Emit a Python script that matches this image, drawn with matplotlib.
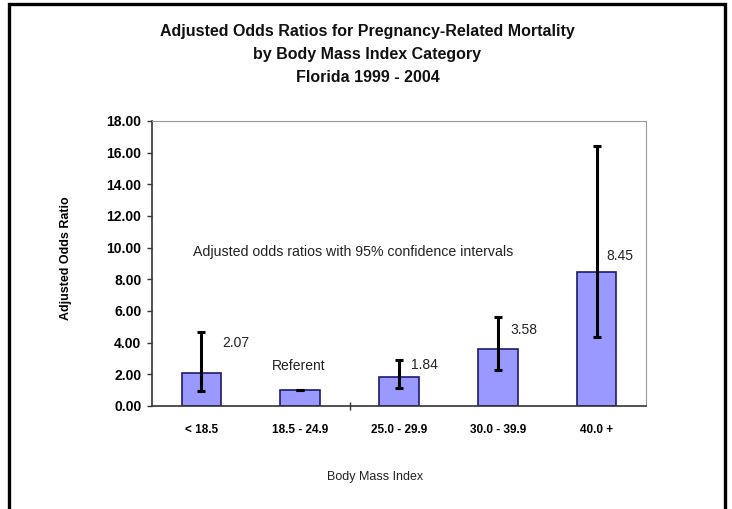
import numpy as np
import matplotlib
matplotlib.use("Agg")
import matplotlib.pyplot as plt
from matplotlib.patches import Rectangle
from matplotlib.ticker import FixedLocator

plt.rcParams['font.family'] = ['Liberation Sans', 'DejaVu Sans']

categories = ['< 18.5', '18.5 - 24.9', '25.0 - 29.9', '30.0 - 39.9', '40.0 +']
odds = [2.07, 1.00, 1.84, 3.58, 8.45]
ci_low = [0.95, 1.00, 1.14, 2.27, 4.36]
ci_high = [4.67, 1.00, 2.90, 5.60, 16.40]
value_labels = ['2.07', 'Referent', '1.84', '3.58', '8.45']
yticks = [0, 2, 4, 6, 8, 10, 12, 14, 16, 18]

# label placement (data offsets from each bar)
lab_dx = [0.21, -0.02, 0.12, 0.13, 0.10]
lab_dy = [1.91, 1.53, 0.75, 1.22, 1.02]
lab_ha = ['left', 'center', 'left', 'left', 'left']

fig = plt.figure(figsize=(7.32, 5.09), dpi=100)
ax = fig.add_axes([0.2077, 0.2024, 0.6748, 0.5599])

x = np.arange(len(categories))
odds_a = np.array(odds)
yerr = [odds_a - np.array(ci_low), np.array(ci_high) - odds_a]
ax.bar(x, odds, width=0.4, color='#9999ff', edgecolor='#1c1c6a', linewidth=1.2, zorder=2)
ax.errorbar(x, odds, yerr=yerr, fmt='none', ecolor='black', elinewidth=2.2,
            capsize=3, capthick=2.2, zorder=3)

for i, t in enumerate(value_labels):
    ax.text(x[i] + lab_dx[i], odds[i] + lab_dy[i], t, ha=lab_ha[i], va='center',
            fontsize=10, color='#222222')

ax.text(-0.085, 9.73, 'Adjusted odds ratios with 95% confidence intervals',
        ha='left', va='center', fontsize=10.2, color='#222222')

ax.set_xlim(-0.5, 4.5)
ax.set_ylim(0, 18)
ax.set_yticks(yticks)
ax.set_yticklabels(['%.2f' % v for v in yticks], fontsize=10, fontweight='bold')
ax.set_xticks(x)
ax.set_xticklabels(categories, fontsize=8.5, fontweight='bold')
ax.tick_params(axis='x', which='major', length=0, pad=13)
ax.tick_params(axis='y', direction='out', length=3.6, width=1, pad=4, color='#333333')
ax.xaxis.set_minor_locator(FixedLocator([1.5]))
ax.tick_params(axis='x', which='minor', direction='inout', length=6, width=1, color='#333333')

ax.spines['left'].set_color('#333333')
ax.spines['bottom'].set_color('#333333')
ax.spines['left'].set_linewidth(1.2)
ax.spines['bottom'].set_linewidth(1.2)
ax.spines['top'].set_color('#999999')
ax.spines['right'].set_color('#999999')
ax.spines['top'].set_linewidth(0.8)
ax.spines['right'].set_linewidth(0.8)

ax.set_ylabel('Adjusted Odds Ratio', fontsize=9, fontweight='bold')
ax.yaxis.set_label_coords(-0.162, 0.52)

fig.text(0.502, 0.952, 'Adjusted Odds Ratios for Pregnancy-Related Mortality\nby Body Mass Index Category\nFlorida 1999 - 2004',
         ha='center', va='top', fontsize=11.5, fontweight='bold', linespacing=1.66, color='#111111')
fig.text(0.513, 0.063, 'Body Mass Index', ha='center', va='center', fontsize=9, color='#222222')

fig.add_artist(Rectangle((9 / 732, -0.05), 716 / 732, 1.05 - 4 / 509, transform=fig.transFigure,
                         fill=False, edgecolor='black', linewidth=2.4))

plt.savefig('out.png', dpi=100)
